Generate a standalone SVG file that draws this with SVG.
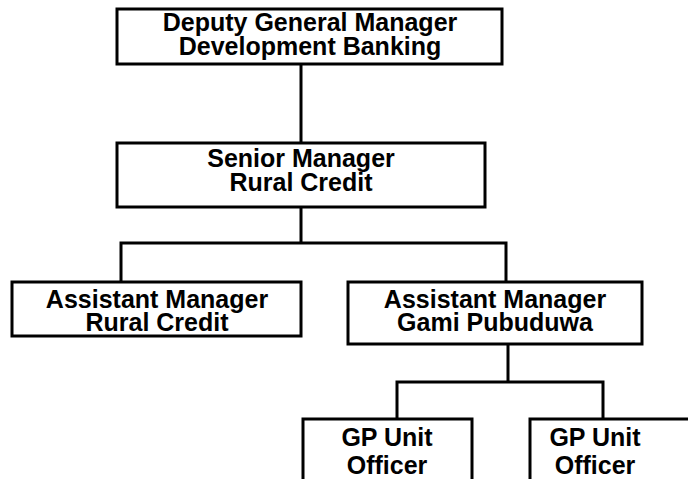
<svg xmlns="http://www.w3.org/2000/svg" width="688" height="479" viewBox="0 0 688 479">
<style>
.box{fill:#fff;stroke:#000;stroke-width:3}
.t{font-family:"Liberation Sans",Arial,sans-serif;font-weight:bold;font-size:25px;fill:#000;text-anchor:middle}
.c{fill:none;stroke:#000;stroke-width:3}
</style>
<rect width="688" height="479" fill="#fff"/>
<g id="connectors">
<path class="c" d="M301 64V143"/>
<path class="c" d="M301 207V243M121 282V243H506V282"/>
<path class="c" d="M508 344V382M397 419V382H603V419"/>
</g>
<g id="dgm">
<rect class="box" x="117" y="9" width="385" height="55"/>
<text class="t" x="310" y="31">Deputy General Manager</text>
<text class="t" x="310" y="55">Development Banking</text>
</g>
<g id="sm">
<rect class="box" x="117" y="143" width="368" height="64"/>
<text class="t" x="301" y="167">Senior Manager</text>
<text class="t" x="301" y="191">Rural Credit</text>
</g>
<g id="am-rc">
<rect class="box" x="12" y="282" width="289" height="54"/>
<text class="t" x="157" y="308">Assistant Manager</text>
<text class="t" x="157" y="331">Rural Credit</text>
</g>
<g id="am-gp">
<rect class="box" x="348" y="282" width="294" height="62"/>
<text class="t" x="495" y="308">Assistant Manager</text>
<text class="t" x="495" y="331">Gami Pubuduwa</text>
</g>
<g id="gp1">
<rect class="box" x="303" y="419" width="169" height="70"/>
<text class="t" x="387" y="446">GP Unit</text>
<text class="t" x="387" y="474">Officer</text>
</g>
<g id="gp2">
<rect class="box" x="530" y="419" width="170" height="70"/>
<text class="t" x="595" y="446">GP Unit</text>
<text class="t" x="595" y="474">Officer</text>
</g>
</svg>
